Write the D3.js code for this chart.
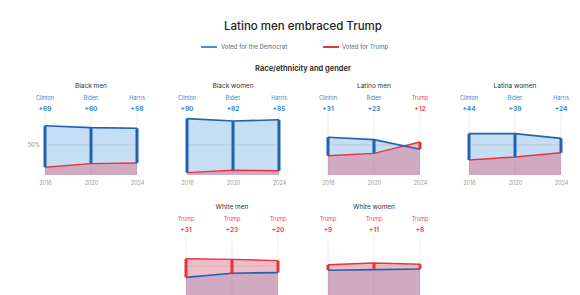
<!DOCTYPE html>
<html>
<head>
<meta charset="utf-8">
<script src="https://cdn.jsdelivr.net/npm/d3@7"></script>
<style>
  body { margin: 0; background: #fff; }
  svg { font-family: Inter, "Noto Sans", sans-serif; }
</style>
</head>
<body>
<div id="chart"></div>
<script>
const years = [2016, 2020, 2024];
const demCandidates = ['Clinton', 'Biden', 'Harris'];
const groups = ['Black men', 'Black women', 'Latino men', 'Latina women', 'White men', 'White women'];
// vote share in percent, per group, per year
const demShare = [[82, 79, 78], [94, 90, 92], [63, 59, 43], [69, 69, 61], [31, 38, 39], [43, 44, 45]];
const trumpShare = [[13, 19, 20], [4, 8, 7], [32, 36, 55], [25, 30, 37], [62, 61, 59], [52, 55, 53]];

const BLUE = '#1f62b0';
const BLUE_TXT = '#3f86cf';
const RED = '#e8333d';
const RED_TXT = '#ec4b55';

const width = 580, height = 295;
const svg = d3.select('#chart').append('svg')
    .attr('width', width)
    .attr('height', height);

// Title + legend
svg.append('text')
    .attr('x', 303).attr('y', 30)
    .attr('text-anchor', 'middle')
    .attr('font-size', 11.5).attr('font-weight', 500)
    .attr('fill', '#222')
    .text('Latino men embraced Trump');

const legend = svg.append('g').attr('transform', 'translate(0,47)');
legend.append('line').attr('x1', 201).attr('x2', 217).attr('stroke', '#4a8fd6').attr('stroke-width', 2);
legend.append('text').attr('x', 221).attr('y', 2).attr('font-size', 6).attr('fill', '#666').text('Voted for the Democrat');
legend.append('line').attr('x1', 323).attr('x2', 339).attr('stroke', RED).attr('stroke-width', 2);
legend.append('text').attr('x', 342).attr('y', 2).attr('font-size', 6).attr('fill', '#666').text('Voted for Trump');

svg.append('text')
    .attr('x', 303).attr('y', 71)
    .attr('text-anchor', 'middle')
    .attr('font-size', 7.5).attr('font-weight', 600)
    .attr('fill', '#222')
    .text('Race/ethnicity and gender');

// Panel positions (left edge of 2016, top of 100%)
const panelPos = [
    { x: 45, y: 115 }, { x: 187, y: 115 }, { x: 328, y: 115 }, { x: 469, y: 115 },
    { x: 186, y: 236 }, { x: 328, y: 236 }
];

const x = d3.scaleLinear().domain([2016, 2024]).range([0, 92]);
const y = d3.scaleLinear().domain([0, 100]).range([60, 0]);

groups.forEach((name, gi) => {
    const pos = panelPos[gi];
    const g = svg.append('g').attr('transform', `translate(${pos.x},${pos.y})`);
    const rows = years.map((yr, i) => ({ year: yr, dem: demShare[gi][i], rep: trumpShare[gi][i] }));

    // panel title
    g.append('text')
        .attr('x', x(2020)).attr('y', -27)
        .attr('text-anchor', 'middle')
        .attr('font-size', 6.5).attr('fill', '#333')
        .text(name);

    // thin guide lines from labels down
    g.selectAll('.guide').data(rows).enter().append('line')
        .attr('x1', d => x(d.year)).attr('x2', d => x(d.year))
        .attr('y1', -2).attr('y2', y(0))
        .attr('stroke', '#ddd').attr('stroke-width', 0.6);

    // areas
    g.append('path').datum(rows)
        .attr('d', d3.area().x(d => x(d.year)).y0(y(0)).y1(d => y(d.dem)))
        .attr('fill', '#6aa8e0').attr('opacity', 0.38);
    g.append('path').datum(rows)
        .attr('d', d3.area().x(d => x(d.year)).y0(y(0)).y1(d => y(d.rep)))
        .attr('fill', '#dc6b84').attr('opacity', 0.45);

    // 50% line
    g.append('line')
        .attr('x1', 0).attr('x2', x(2024))
        .attr('y1', y(50)).attr('y2', y(50))
        .attr('stroke', '#aaa').attr('stroke-width', 0.5).attr('opacity', 0.8);
    if (gi === 0) {
        g.append('text')
            .attr('x', -5).attr('y', y(50) + 2)
            .attr('text-anchor', 'end')
            .attr('font-size', 5.5).attr('fill', '#888')
            .text('50%');
    }

    // share lines
    g.append('path').datum(rows)
        .attr('d', d3.line().x(d => x(d.year)).y(d => y(d.rep)))
        .attr('fill', 'none').attr('stroke', RED).attr('stroke-width', 1.4);
    g.append('path').datum(rows)
        .attr('d', d3.line().x(d => x(d.year)).y(d => y(d.dem)))
        .attr('fill', 'none').attr('stroke', BLUE).attr('stroke-width', 1.6);

    // margin bars
    g.selectAll('.bar').data(rows).enter().append('line')
        .attr('x1', d => x(d.year)).attr('x2', d => x(d.year))
        .attr('y1', d => y(d.dem)).attr('y2', d => y(d.rep))
        .attr('stroke', d => d.dem > d.rep ? BLUE : RED)
        .attr('stroke-width', 3);

    // winner labels
    g.selectAll('.name').data(rows).enter().append('text')
        .attr('x', d => x(d.year)).attr('y', -15)
        .attr('text-anchor', 'middle')
        .attr('font-size', 5.5)
        .attr('fill', d => d.dem > d.rep ? BLUE_TXT : RED_TXT)
        .text((d, i) => d.dem > d.rep ? demCandidates[i] : 'Trump');
    g.selectAll('.margin').data(rows).enter().append('text')
        .attr('x', d => x(d.year)).attr('y', -4)
        .attr('text-anchor', 'middle')
        .attr('font-size', 6.5).attr('font-weight', 700)
        .attr('fill', d => d.dem > d.rep ? BLUE_TXT : RED_TXT)
        .text(d => '+' + Math.abs(d.dem - d.rep));

    // year axis (second row's axis falls below the visible frame)
    if (pos.y + y(0) + 10 < height) {
        const axis = g.append('g')
            .attr('transform', `translate(0,${y(0) + 3})`)
            .call(d3.axisBottom(x).tickValues(years).tickFormat(d3.format('d')).tickSize(0));
        axis.select('.domain').remove();
        axis.selectAll('text').attr('font-size', 5.5).attr('fill', '#999').attr('font-family', 'Inter, sans-serif');
    }
});
</script>
</body>
</html>
